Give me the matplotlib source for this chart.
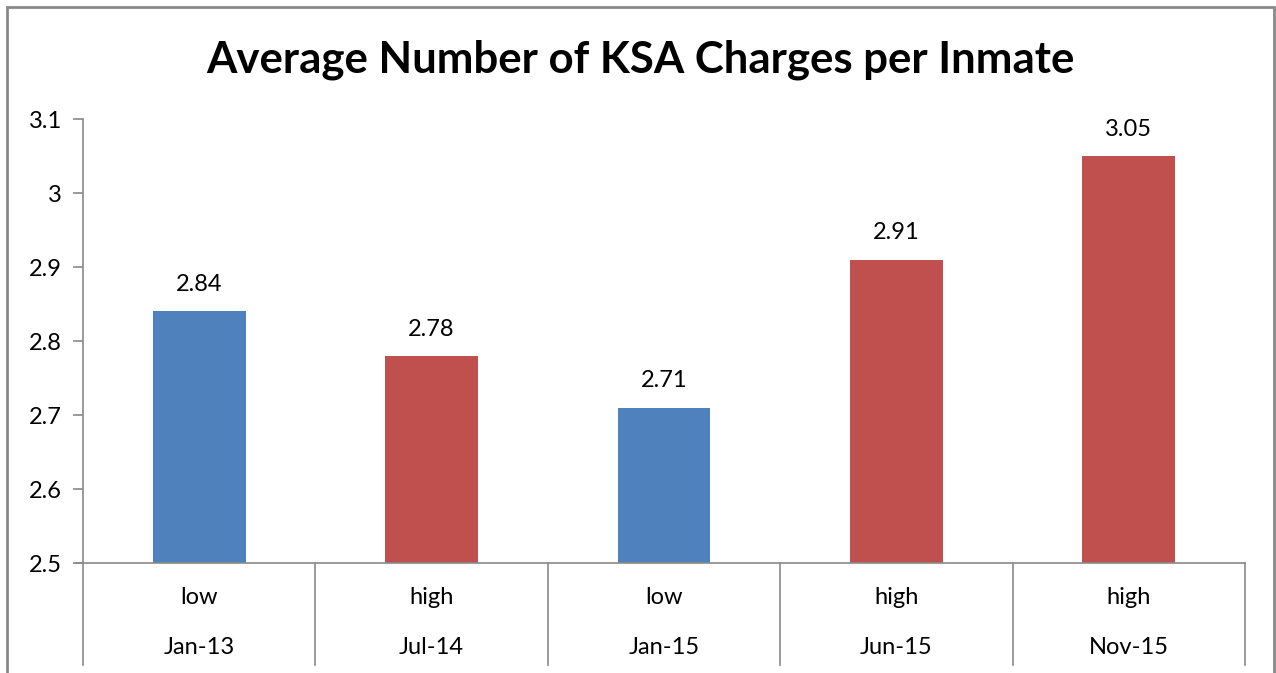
import matplotlib.pyplot as plt
from matplotlib.patches import Rectangle

# données
periods = ["Jan-13", "Jul-14", "Jan-15", "Jun-15", "Nov-15"]
levels = ["low", "high", "low", "high", "high"]
values = [2.84, 2.78, 2.71, 2.91, 3.05]

BLUE = "#4F81BD"
RED = "#C0504D"
GRID = "#898989"

plt.rcParams["font.family"] = ["Lato", "DejaVu Sans"]

W, H = 1276, 673
fig = plt.figure(figsize=(W / 100, H / 100), dpi=100)
ax = fig.add_axes([83 / W, 1 - 563 / H, (1245 - 83) / W, (563 - 119) / H])

colors = [BLUE if lv == "low" else RED for lv in levels]
x = list(range(len(values)))
ax.bar(x, [v - 2.5 for v in values], bottom=2.5, width=0.4, color=colors, zorder=2)
for xi, v in zip(x, values):
    ax.text(xi, v + 0.022, f"{v:.2f}", ha="center", va="bottom", fontsize=17)

ax.set_xlim(-0.5, len(values) - 0.5)
ax.set_ylim(2.5, 3.1)
ax.set_yticks([2.5, 2.6, 2.7, 2.8, 2.9, 3.0, 3.1])
ax.set_yticklabels(["2.5", "2.6", "2.7", "2.8", "2.9", "3", "3.1"], fontsize=17)
ax.tick_params(axis="y", length=7, width=1.2, color=GRID, pad=8)
ax.set_xticks([])
for s in ["top", "right"]:
    ax.spines[s].set_visible(False)
for s in ["left", "bottom"]:
    ax.spines[s].set_color(GRID)
    ax.spines[s].set_linewidth(1.2)

# axe des catégories à deux niveaux
for i in range(len(values) + 1):
    ax.plot([i - 0.5, i - 0.5], [2.5, 2.5 - 0.6 * 102 / 444], color=GRID, lw=1.2,
            clip_on=False, zorder=3)
for xi, lv, p in zip(x, levels, periods):
    ax.text(xi, 2.5 - 0.6 * 34 / 444, lv, ha="center", va="center", fontsize=17)
    ax.text(xi, 2.5 - 0.6 * 84 / 444, p, ha="center", va="center", fontsize=17)
ax.plot([-0.5 - 7 / 232.4, -0.5], [2.5, 2.5], color=GRID, lw=1.2, clip_on=False)

fig.text(640 / W, 1 - 60 / H, "Average Number of KSA Charges per Inmate",
         ha="center", va="center", fontsize=31.5, fontweight="bold")

# cadre du graphique
fig.patches.append(Rectangle((7 / W, -0.05), (1274 - 7) / W, 1.05 - 7 / H,
                             transform=fig.transFigure, fill=False,
                             edgecolor=GRID, lw=2))

fig.savefig("out.png", dpi=100)
